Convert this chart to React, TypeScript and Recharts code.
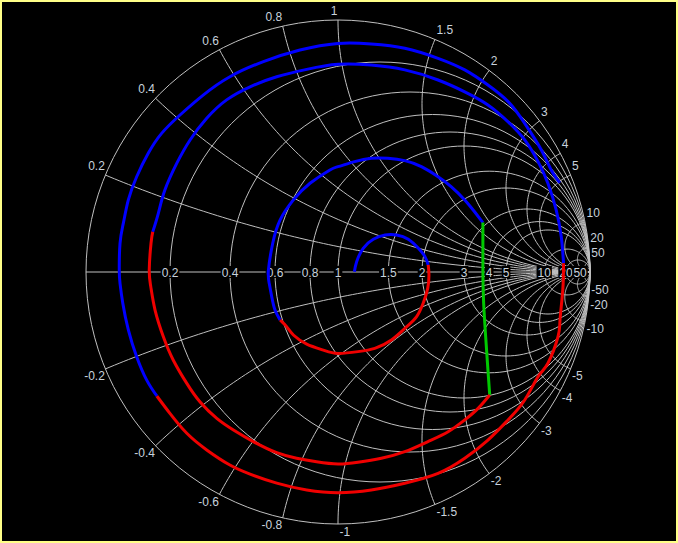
import { ScatterChart, Scatter, XAxis, YAxis } from 'recharts';

// grid values of the Smith chart
const resistanceTicks = [0.2, 0.4, 0.6, 0.8, 1, 1.5, 2, 3, 4, 5, 10, 20, 50];
const reactanceTicks = [0.2, 0.4, 0.6, 0.8, 1, 1.5, 2, 3, 4, 5, 10, 20, 50];

// traced curve, reflection coefficient [re, im], in drawing order
const blueInner: [number, number][] = [
  [0.065, 0.001], [0.074, 0.041], [0.1, 0.094], [0.14, 0.13], [0.187, 0.147], [0.233, 0.147],
  [0.279, 0.13], [0.319, 0.094], [0.345, 0.061], [0.358, 0.028],
];
const redInner: [number, number][] = [
  [0.358, 0.028], [0.361, -0.012], [0.356, -0.065], [0.338, -0.124], [0.312, -0.177], [0.273, -0.217],
  [0.212, -0.27], [0.146, -0.303], [0.079, -0.316], [0.0, -0.323], [-0.058, -0.31], [-0.124, -0.286],
  [-0.177, -0.25], [-0.204, -0.217], [-0.23, -0.19],
];
const blueMid: [number, number][] = [
  [-0.23, -0.19], [-0.25, -0.151], [-0.263, -0.098], [-0.273, -0.045], [-0.276, 0.008], [-0.259, 0.114],
  [-0.23, 0.206], [-0.177, 0.286], [-0.111, 0.352], [-0.032, 0.405], [0.0, 0.418], [0.066, 0.438],
  [0.132, 0.451], [0.198, 0.451], [0.265, 0.442], [0.331, 0.418], [0.397, 0.378], [0.45, 0.338],
  [0.503, 0.286], [0.542, 0.239], [0.575, 0.196],
];
const greenLink: [number, number][] = [
  [0.575, 0.196], [0.575, 0.008], [0.578, -0.124], [0.586, -0.257], [0.595, -0.389], [0.602, -0.488],
];
const redMid: [number, number][] = [
  [0.602, -0.488], [0.556, -0.541], [0.503, -0.587], [0.437, -0.634], [0.357, -0.673], [0.265, -0.713],
  [0.172, -0.739], [0.079, -0.755], [0.0, -0.762], [-0.085, -0.753], [-0.164, -0.739], [-0.243, -0.717],
  [-0.336, -0.673], [-0.415, -0.627], [-0.481, -0.581], [-0.548, -0.515], [-0.6, -0.442], [-0.654, -0.349],
  [-0.693, -0.257], [-0.726, -0.151], [-0.743, -0.058], [-0.749, 0.008], [-0.742, 0.114], [-0.735, 0.16],
];
const blueOuter: [number, number][] = [
  [-0.735, 0.16], [-0.713, 0.233], [-0.687, 0.325], [-0.64, 0.431], [-0.587, 0.524], [-0.521, 0.61],
  [-0.442, 0.683], [-0.349, 0.735], [-0.243, 0.775], [-0.124, 0.804], [0.0, 0.824], [0.132, 0.821],
  [0.265, 0.802], [0.397, 0.762], [0.503, 0.715], [0.595, 0.663], [0.675, 0.596], [0.741, 0.524],
  [0.794, 0.438], [0.833, 0.352], [0.866, 0.246], [0.886, 0.14], [0.895, 0.035],
];
const redOuter: [number, number][] = [
  [0.895, 0.035], [0.892, -0.071], [0.881, -0.19], [0.873, -0.257], [0.833, -0.362], [0.794, -0.415],
  [0.741, -0.508], [0.675, -0.587], [0.595, -0.667], [0.503, -0.739], [0.397, -0.799], [0.265, -0.838],
  [0.132, -0.865], [0.0, -0.876], [-0.124, -0.865], [-0.243, -0.838], [-0.349, -0.802], [-0.429, -0.766],
  [-0.521, -0.706], [-0.6, -0.64], [-0.667, -0.561], [-0.719, -0.492],
];
const blueEdge: [number, number][] = [
  [-0.719, -0.492], [-0.759, -0.429], [-0.799, -0.336], [-0.832, -0.23], [-0.854, -0.124], [-0.865, -0.045],
  [-0.868, 0.008], [-0.865, 0.114], [-0.852, 0.193], [-0.832, 0.286], [-0.799, 0.378], [-0.753, 0.471],
  [-0.7, 0.55], [-0.627, 0.623], [-0.535, 0.702], [-0.429, 0.775], [-0.296, 0.835], [-0.151, 0.881],
  [0.0, 0.907], [0.132, 0.905], [0.265, 0.888], [0.397, 0.848], [0.503, 0.802], [0.595, 0.742],
  [0.675, 0.676], [0.741, 0.59], [0.807, 0.484], [0.846, 0.405], [0.88, 0.354],
];

const traces = [
  { pts: blueInner, color: '#0000ff' },
  { pts: redInner, color: '#f00000' },
  { pts: blueMid, color: '#0000ff' },
  { pts: greenLink, color: '#00c800' },
  { pts: redMid, color: '#f00000' },
  { pts: blueOuter, color: '#0000ff' },
  { pts: redOuter, color: '#f00000' },
  { pts: blueEdge, color: '#0000ff' },
];

const GRID = '#c0c0c0';
const TEXT = '#c8d2dc';

type P = { u: number; v: number };

const toPts = (arr: [number, number][]): P[] => arr.map(([u, v]) => ({ u, v }));

// constant resistance circle
function rCircle(r: number): P[] {
  const c = r / (1 + r);
  const rad = 1 / (1 + r);
  const out: P[] = [];
  for (let i = 0; i <= 120; i++) {
    const t = (i / 120) * 2 * Math.PI;
    out.push({ u: c + rad * Math.cos(t), v: rad * Math.sin(t) });
  }
  return out;
}

// constant reactance arc, only the part inside the unit circle
function xArc(x: number): P[] {
  const ax = Math.abs(x);
  const rad = 1 / ax;
  const g0u = (ax * ax - 1) / (ax * ax + 1);
  const g0v = (2 * ax) / (ax * ax + 1);
  let end = Math.atan2(g0v - rad, g0u - 1);
  if (end > -Math.PI / 2) end -= 2 * Math.PI;
  const start = -Math.PI / 2;
  const out: P[] = [];
  for (let i = 0; i <= 100; i++) {
    const t = start + ((end - start) * i) / 100;
    const v = rad + rad * Math.sin(t);
    out.push({ u: 1 + rad * Math.cos(t), v: x < 0 ? -v : v });
  }
  return out;
}

const gridLines: P[][] = [
  rCircle(0),
  ...resistanceTicks.map(rCircle),
  ...reactanceTicks.map(xArc),
  ...reactanceTicks.map(x => xArc(-x)),
  [{ u: -1, v: 0 }, { u: 1, v: 0 }],
];

type Lbl = P & { text: string; kind: 'axis' | 'top' | 'bottom'; side: 'start' | 'end' };

const labels: Lbl[] = [
  ...resistanceTicks.map(r => ({ u: (r - 1) / (r + 1), v: 0, text: String(r), kind: 'axis' as const, side: 'start' as const })),
  ...reactanceTicks.map(x => {
    const u = (x * x - 1) / (x * x + 1);
    return { u, v: (2 * x) / (x * x + 1), text: String(x), kind: 'top' as const, side: (u > 0.001 ? 'start' : 'end') as 'start' | 'end' };
  }),
  ...reactanceTicks.map(x => {
    const u = (x * x - 1) / (x * x + 1);
    return { u, v: (-2 * x) / (x * x + 1), text: String(-x), kind: 'bottom' as const, side: (u > -0.001 ? 'start' : 'end') as 'start' | 'end' };
  }),
];

const textWidth = (s: string) =>
  s.split('').reduce((w, ch) => w + (ch === '.' ? 3.34 : ch === '-' ? 4 : 6.67), 0);

const NoDot = () => <g />;

const LabelShape = (props: any) => {
  const { cx, cy, payload } = props;
  const p = payload as Lbl;
  const w = textWidth(p.text);
  const font = { fontFamily: '"Liberation Sans", Arial, sans-serif', fontSize: 12, fill: TEXT };
  if (p.kind === 'axis') {
    return (
      <g>
        <rect x={cx - w / 2 - 1} y={cy - 6} width={w + 2} height={12} fill="#000" />
        <text x={cx} y={cy + 5} textAnchor="middle" {...font}>{p.text}</text>
      </g>
    );
  }
  const tx = p.side === 'start' ? cx + 1.5 : cx - 0.5;
  const ty = p.kind === 'top' ? cy - 5 : cy + 11.5;
  return (
    <text x={tx} y={ty} textAnchor={p.side} {...font}>{p.text}</text>
  );
};

export default function App() {
  return (
    <div
      style={{
        position: 'absolute',
        left: 0,
        top: 0,
        width: 674,
        height: 539,
        background: '#000',
        border: '2px solid #ffff88',
      }}
    >
      <ScatterChart width={674} height={539} margin={{ top: 18, right: 86, bottom: 17, left: 84 }}>
        <XAxis type="number" dataKey="u" domain={[-1, 1]} hide />
        <YAxis type="number" dataKey="v" domain={[-1, 1]} hide />
        {gridLines.map((pts, i) => (
          <Scatter
            key={`g${i}`}
            data={pts}
            line={{ stroke: GRID, strokeWidth: 1 }}
            shape={NoDot}
            isAnimationActive={false}
          />
        ))}
        <Scatter data={labels} shape={LabelShape} isAnimationActive={false} />
        {traces.map((t, i) => (
          <Scatter
            key={`t${i}`}
            data={toPts(t.pts)}
            line={{ stroke: t.color, strokeWidth: 3 }}
            lineJointType="natural"
            shape={NoDot}
            isAnimationActive={false}
          />
        ))}
      </ScatterChart>
    </div>
  );
}
